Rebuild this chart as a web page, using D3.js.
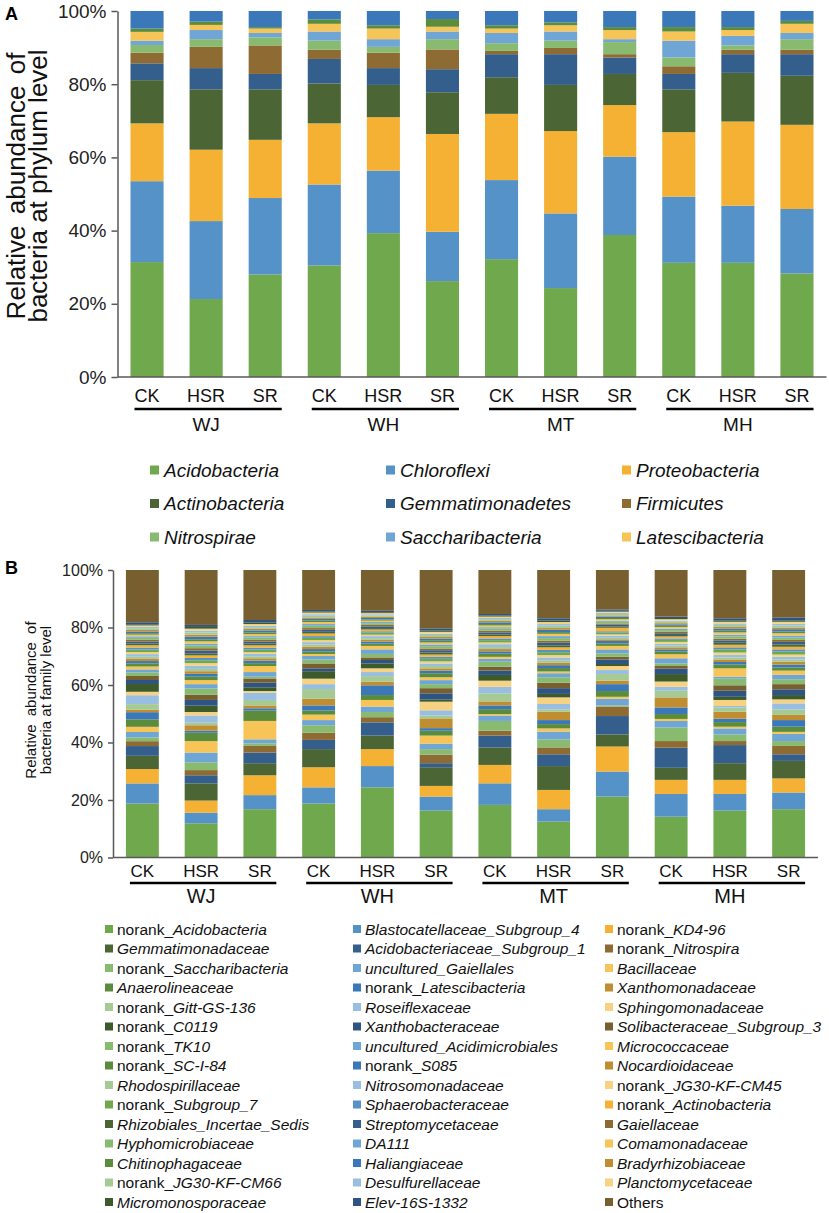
<!DOCTYPE html>
<html>
<head>
<meta charset="utf-8">
<script src="https://cdn.jsdelivr.net/npm/d3@7"></script>
<style>
  body { margin: 0; background: #fff; }
  svg { font-family: "Liberation Sans", Arial, sans-serif; }
</style>
</head>
<body>
<div id="chart"></div>
<script>
// sites and treatments on the x axis
const sites = ["WJ", "WH", "MT", "MH"];
const treatments = ["CK", "HSR", "SR"];
const samples = sites.flatMap(s => treatments.map(t => s + "_" + t));

// panel A: phylum level (last two series are not in the legend)
const phyla = ["Acidobacteria", "Chloroflexi", "Proteobacteria", "Actinobacteria",
  "Gemmatimonadetes", "Firmicutes", "Nitrospirae", "Saccharibacteria", "Latescibacteria",
  "minor phyla", "others"];

const phylumWJ_CK  = [31.4, 22.1, 15.8, 11.8, 4.6, 2.9, 2.1, 1.2, 2.4, 0.9, 4.8];
const phylumWJ_HSR = [21.3, 21.3, 19.5, 16.5, 5.8, 5.8, 2.1, 2.5, 1.4, 0.9, 2.9];
const phylumWJ_SR  = [28.0, 20.9, 15.9, 13.8, 4.2, 7.8, 2.2, 1.2, 1.2, 0.4, 4.4];
const phylumWH_CK  = [30.5, 22.1, 16.7, 10.9, 6.7, 2.5, 2.5, 2.5, 2.1, 1.2, 2.3];
const phylumWH_HSR = [39.3, 17.1, 14.6, 8.8, 4.6, 4.2, 1.6, 2.1, 2.9, 0.9, 3.9];
const phylumWH_SR  = [26.2, 13.5, 26.7, 11.4, 6.3, 5.4, 2.8, 2.1, 1.3, 2.1, 2.2];
const phylumMT_CK  = [32.2, 21.6, 18.1, 10.0, 6.3, 0.9, 2.1, 2.8, 1.2, 0.9, 3.9];
const phylumMT_HSR = [24.3, 20.4, 22.5, 12.6, 8.4, 1.7, 2.0, 2.5, 1.7, 0.8, 3.1];
const phylumMT_SR  = [38.8, 21.4, 14.1, 8.5, 4.5, 0.9, 3.3, 0.8, 2.5, 0.8, 4.4];
const phylumMH_CK  = [31.2, 18.1, 17.6, 11.7, 4.2, 2.1, 2.4, 4.6, 2.5, 1.2, 4.4];
const phylumMH_HSR = [31.2, 15.6, 23.0, 13.3, 5.1, 1.2, 1.2, 2.6, 1.6, 0.8, 4.4];
const phylumMH_SR  = [28.3, 17.6, 23.0, 13.4, 5.9, 1.2, 2.9, 1.7, 2.5, 0.8, 2.7];

// panel B: family level
const families = ["norank_Acidobacteria", "Blastocatellaceae_Subgroup_4", "norank_KD4-96",
  "Gemmatimonadaceae", "Acidobacteriaceae_Subgroup_1", "norank_Nitrospira",
  "norank_Saccharibacteria", "uncultured_Gaiellales", "Bacillaceae",
  "Anaerolineaceae", "norank_Latescibacteria", "Xanthomonadaceae",
  "norank_Gitt-GS-136", "Roseiflexaceae", "Sphingomonadaceae",
  "norank_C0119", "Xanthobacteraceae", "Solibacteraceae_Subgroup_3",
  "norank_TK10", "uncultured_Acidimicrobiales", "Micrococcaceae",
  "norank_SC-I-84", "norank_S085", "Nocardioidaceae",
  "Rhodospirillaceae", "Nitrosomonadaceae", "norank_JG30-KF-CM45",
  "norank_Subgroup_7", "Sphaerobacteraceae", "norank_Actinobacteria",
  "Rhizobiales_Incertae_Sedis", "Streptomycetaceae", "Gaiellaceae",
  "Hyphomicrobiaceae", "DA111", "Comamonadaceae",
  "Chitinophagaceae", "Haliangiaceae", "Bradyrhizobiaceae",
  "norank_JG30-KF-CM66", "Desulfurellaceae", "Planctomycetaceae",
  "Micromonosporaceae", "Elev-16S-1332", "Others"];

const familyWJ_CK = [18.8, 7.0, 5.0, 4.6, 3.4, 1.7, 1.3, 1.9, 1.8, 2.6, 2.5, 0.9, 1.9, 3.1, 1.2,
  2.7, 1.4, 1.4, 1.2, 1.1, 1.0, 1.1, 0.8, 0.9, 0.6, 0.9, 0.7, 0.9, 0.7, 0.8, 0.6, 0.7, 0.6, 0.7,
  0.5, 0.6, 0.5, 0.6, 0.5, 0.6, 0.5, 0.5, 0.4, 0.7, 18.2];
const familyWJ_HSR = [11.9, 3.7, 4.2, 6.0, 2.8, 1.8, 2.7, 3.4, 4.0, 2.9, 0.7, 1.9, 0.9, 2.5, 1.2,
  2.2, 2.0, 1.8, 2.2, 1.5, 1.4, 1.2, 1.0, 0.9, 0.8, 1.1, 0.9, 1.0, 0.8, 0.9, 0.7, 1.0, 0.8, 0.9,
  0.7, 0.8, 0.7, 0.9, 0.7, 0.8, 0.6, 0.7, 0.6, 0.7, 19.1];
const familyWJ_SR = [16.8, 4.9, 6.9, 4.2, 3.7, 2.3, 0.9, 1.4, 6.4, 3.6, 0.8, 1.0, 1.9, 2.5, 0.6,
  1.3, 1.6, 1.5, 0.6, 1.6, 2.1, 1.0, 0.9, 0.8, 0.7, 0.8, 0.6, 0.9, 0.7, 0.8, 0.6, 0.7, 0.6, 0.8,
  0.5, 0.7, 0.6, 0.7, 0.5, 0.6, 0.5, 0.6, 0.5, 0.9, 17.4];
const familyWH_CK = [18.8, 5.6, 7.0, 6.3, 3.2, 2.5, 2.6, 1.8, 1.9, 1.4, 1.8, 2.3, 3.4, 1.7, 1.9,
  2.6, 1.0, 1.7, 1.4, 1.2, 0.7, 0.9, 0.8, 0.9, 0.7, 0.8, 0.7, 0.8, 0.6, 0.9, 0.6, 0.7, 0.6, 0.8,
  0.6, 0.7, 0.5, 0.6, 0.5, 0.6, 0.5, 0.6, 0.4, 0.5, 13.9];
const familyWH_HSR = [24.4, 7.4, 5.9, 4.7, 4.6, 1.8, 1.8, 1.9, 2.3, 1.7, 3.4, 1.3, 1.9, 1.4, 1.3,
  1.7, 1.2, 0.9, 1.2, 1.6, 1.2, 0.8, 0.7, 0.6, 0.6, 0.7, 0.5, 0.7, 0.5, 0.6, 0.5, 0.6, 0.5, 0.6,
  0.4, 0.5, 0.4, 0.5, 0.4, 0.5, 0.4, 0.4, 0.3, 0.5, 14.2];
const familyWH_SR = [16.3, 4.9, 3.7, 6.5, 1.4, 3.0, 1.9, 1.9, 2.8, 1.7, 0.9, 3.4, 1.0, 1.8, 3.0,
  0.8, 2.1, 1.8, 1.4, 1.4, 1.0, 1.4, 0.9, 0.8, 0.8, 0.9, 0.7, 0.9, 0.7, 0.8, 0.7, 0.8, 0.6, 0.8,
  0.6, 0.7, 0.6, 0.7, 0.6, 0.7, 0.5, 0.6, 0.5, 0.7, 20.3];
const familyMT_CK = [18.3, 7.5, 6.4, 6.1, 4.1, 1.7, 3.4, 1.9, 0.5, 1.7, 1.3, 1.4, 2.8, 2.3, 2.1,
  2.0, 1.5, 1.4, 1.7, 1.0, 0.7, 1.1, 0.8, 0.8, 0.7, 1.0, 0.6, 0.8, 0.6, 0.8, 0.6, 0.7, 0.6, 0.7,
  0.5, 0.6, 0.5, 0.6, 0.5, 0.6, 0.4, 0.5, 0.4, 0.5, 15.3];
const familyMT_HSR = [12.5, 4.3, 6.7, 8.3, 4.1, 2.4, 2.8, 2.7, 1.1, 1.5, 1.4, 2.9, 0.8, 1.9, 2.3,
  1.2, 2.0, 1.9, 1.9, 1.4, 0.6, 1.2, 1.0, 0.9, 0.8, 1.0, 0.8, 1.0, 0.8, 0.9, 0.7, 0.9, 0.7, 0.9,
  0.7, 0.8, 0.6, 0.8, 0.6, 0.8, 0.6, 0.7, 0.5, 0.8, 16.8];
const familyMT_SR = [21.2, 8.7, 8.7, 4.2, 6.4, 3.3, 0.4, 2.3, 0.7, 2.0, 2.4, 1.2, 2.3, 1.4, 1.4,
  0.7, 1.6, 0.9, 1.2, 1.4, 1.2, 0.8, 0.9, 0.6, 0.5, 0.7, 0.5, 0.6, 0.5, 1.2, 0.5, 0.6, 0.4, 0.6,
  0.4, 0.5, 0.4, 0.5, 0.4, 0.5, 0.4, 0.4, 0.3, 0.5, 13.7];
const familyMH_CK = [14.2, 7.9, 4.9, 4.2, 7.0, 2.3, 4.7, 2.3, 0.7, 1.7, 2.3, 3.5, 2.3, 1.4, 1.8,
  2.6, 1.9, 0.9, 0.9, 1.8, 1.4, 1.0, 0.7, 0.7, 0.6, 0.7, 0.6, 0.7, 0.5, 0.7, 0.5, 0.6, 0.5, 0.6,
  0.5, 0.6, 0.4, 0.5, 0.4, 0.5, 0.4, 0.5, 0.4, 0.5, 16.2];
const familyMH_HSR = [16.3, 5.8, 4.9, 5.8, 6.3, 1.4, 2.3, 2.1, 0.6, 1.6, 1.2, 2.4, 1.5, 0.5, 2.1,
  1.1, 2.1, 1.9, 2.3, 0.7, 2.9, 1.3, 0.9, 0.9, 0.7, 0.9, 0.8, 1.1, 0.7, 0.9, 0.7, 0.8, 0.6, 0.8,
  0.6, 0.8, 0.6, 0.7, 0.6, 0.7, 0.5, 0.6, 0.5, 0.7, 16.8];
const familyMH_SR = [16.8, 5.8, 4.9, 6.1, 2.3, 2.9, 1.7, 2.5, 0.7, 1.8, 2.3, 1.8, 1.9, 2.1, 1.4,
  1.5, 2.0, 1.8, 1.7, 1.6, 1.4, 1.1, 1.0, 1.0, 0.8, 0.9, 0.8, 1.0, 0.8, 0.9, 0.8, 0.9, 0.7, 0.8,
  0.7, 0.8, 0.6, 0.8, 0.6, 0.7, 0.6, 0.7, 0.5, 1.0, 16.5];

const phylumValues = [phylumWJ_CK, phylumWJ_HSR, phylumWJ_SR, phylumWH_CK, phylumWH_HSR, phylumWH_SR,
  phylumMT_CK, phylumMT_HSR, phylumMT_SR, phylumMH_CK, phylumMH_HSR, phylumMH_SR];
const familyValues = [familyWJ_CK, familyWJ_HSR, familyWJ_SR, familyWH_CK, familyWH_HSR, familyWH_SR,
  familyMT_CK, familyMT_HSR, familyMT_SR, familyMH_CK, familyMH_HSR, familyMH_SR];

// colours: three hues, several shades each
const shades = {
  green:  { base: "#70a84e", dark: "#4b6634", light: "#88bb70", mid: "#5b8c3b", pale: "#a5ca93", deep: "#3d5a2b" },
  blue:   { base: "#5592c8", dark: "#345f8c", light: "#70a6d6", mid: "#3b78b9", pale: "#98bee2", deep: "#2d5482" },
  orange: { base: "#f4b133", dark: "#8e6b32", light: "#f6c457", mid: "#c18d31", pale: "#f7d283", deep: "#785f30" }
};
const hueOrder = ["green", "blue", "orange"];
const rowShades = ["base", "dark", "light", "mid", "pale", "deep", "light", "mid", "pale",
  "base", "dark", "light", "mid", "pale", "deep"];

const phylumColors = phyla.map((d, i) => {
  const row = Math.floor(i / 3);
  return shades[hueOrder[i % 3]][["base", "dark", "light", "mid"][row]];
});
const familyColors = families.map((d, i) => shades[hueOrder[i % 3]][rowShades[Math.floor(i / 3)]]);

const width = 829, height = 1213;
const svg = d3.select("#chart").append("svg")
  .attr("width", width)
  .attr("height", height);

function drawPanel(o) {
  const g = svg.append("g");

  const x = d3.scaleBand()
    .domain(samples)
    .range(o.xRange)
    .paddingInner(0.44)
    .paddingOuter(0.22);

  const y = d3.scaleLinear()
    .domain([0, 1])
    .range(o.yRange);

  // build the table d3.stack wants
  const table = samples.map((s, i) => {
    const row = { sample: s };
    o.keys.forEach((k, j) => { row[k] = o.values[i][j]; });
    return row;
  });

  const layers = d3.stack()
    .keys(o.keys)
    .offset(d3.stackOffsetExpand)(table);

  g.selectAll("g.layer")
    .data(layers)
    .join("g")
    .attr("class", "layer")
    .attr("fill", (d, i) => o.colors[i])
    .selectAll("rect")
    .data(d => d)
    .join("rect")
    .attr("x", d => x(d.data.sample))
    .attr("width", x.bandwidth())
    .attr("y", d => y(d[1]))
    .attr("height", d => y(d[0]) - y(d[1]));

  // y axis
  const yAxis = d3.axisLeft(y)
    .tickValues([0, 0.2, 0.4, 0.6, 0.8, 1])
    .tickFormat(d3.format(".0%"))
    .tickSize(o.tickSize)
    .tickSizeOuter(0)
    .tickPadding(o.tickPad);

  const ya = g.append("g")
    .attr("transform", `translate(${o.xRange[0]},0)`)
    .call(yAxis);
  ya.select(".domain").attr("stroke", "#595959").attr("stroke-width", 1.5);
  ya.selectAll(".tick line").attr("stroke", "#595959").attr("stroke-width", 1.5);
  ya.selectAll(".tick text")
    .attr("fill", "#222")
    .style("font-size", o.tickFont + "px")
    .style("font-family", "'Liberation Sans', Arial, sans-serif");

  // base line
  g.append("line")
    .attr("x1", o.xRange[0]).attr("x2", o.xRange[1])
    .attr("y1", y(0)).attr("y2", y(0))
    .attr("stroke", "#595959").attr("stroke-width", 1.5);

  // treatment labels
  g.selectAll("text.treat")
    .data(samples)
    .join("text")
    .attr("class", "treat")
    .attr("x", d => x(d) + x.bandwidth() / 2)
    .attr("y", o.treatY)
    .attr("text-anchor", "middle")
    .style("font-size", o.treatFont + "px")
    .attr("fill", "#111")
    .text(d => d.split("_")[1]);

  // site underline and label
  sites.forEach(s => {
    const first = x(s + "_CK"), last = x(s + "_SR") + x.bandwidth();
    g.append("line")
      .attr("x1", first + 4).attr("x2", last)
      .attr("y1", o.lineY).attr("y2", o.lineY)
      .attr("stroke", "#000").attr("stroke-width", 2.5);
    g.append("text")
      .attr("x", x(s + "_HSR") + x.bandwidth() / 2)
      .attr("y", o.siteY)
      .attr("text-anchor", "middle")
      .style("font-size", o.siteFont + "px")
      .attr("fill", "#111")
      .text(s);
  });

  // y title
  const cy = o.titleCenter;
  o.title.forEach((line, i) => {
    g.append("text")
      .attr("transform", `translate(${o.titleX[i]},${cy}) rotate(-90)`)
      .attr("text-anchor", "middle")
      .style("font-size", o.titleFont + "px")
      .style("word-spacing", (i === 0 ? o.titleWordSpacing : 0) + "px")
      .attr("fill", "#111")
      .text(line);
  });

  // panel letter
  g.append("text")
    .attr("x", 5).attr("y", o.letterY)
    .style("font-size", "18px")
    .style("font-weight", "bold")
    .text(o.letter);
}

drawPanel({
  keys: phyla, values: phylumValues, colors: phylumColors,
  xRange: [117.5, 826.5], yRange: [377, 11],
  tickSize: 6, tickPad: 5, tickFont: 19,
  treatY: 402, treatFont: 18, lineY: 409, siteY: 431, siteFont: 19,
  title: ["Relative abundance of", "bacteria at phylum level"],
  titleX: [25, 47], titleCenter: 186, titleFont: 26, titleWordSpacing: 4,
  letter: "A", letterY: 20
});

drawPanel({
  keys: families, values: familyValues, colors: familyColors,
  xRange: [113, 818], yRange: [857.5, 570],
  tickSize: 5, tickPad: 5, tickFont: 16,
  treatY: 877, treatFont: 17, lineY: 883, siteY: 903, siteFont: 20,
  title: ["Relative abundance of", "bacteria at family level"],
  titleX: [36, 51], titleCenter: 700, titleFont: 15, titleWordSpacing: 4,
  letter: "B", letterY: 574
});

// legend A (three columns, row-major)
const legA = svg.append("g");
const legAItems = phyla.slice(0, 9);
legA.selectAll("g")
  .data(legAItems)
  .join("g")
  .attr("transform", (d, i) => `translate(${150 + (i % 3) * 236},${470 + Math.floor(i / 3) * 33.5})`)
  .each(function (d, i) {
    const item = d3.select(this);
    item.append("rect")
      .attr("x", 0).attr("y", -4.5).attr("width", 9).attr("height", 9)
      .attr("fill", phylumColors[i]);
    item.append("text")
      .attr("x", 14).attr("y", 6.5)
      .style("font-size", "19px")
      .style("font-style", "italic")
      .attr("fill", "#111")
      .text(d);
  });

// legend B (three columns, row-major)
const legB = svg.append("g");
const colX = [105, 353, 605];
legB.selectAll("g")
  .data(families)
  .join("g")
  .attr("transform", (d, i) => `translate(${colX[i % 3]},${929 + Math.floor(i / 3) * 19.5})`)
  .each(function (d, i) {
    const item = d3.select(this);
    item.append("rect")
      .attr("x", 0).attr("y", -4).attr("width", 8).attr("height", 8)
      .attr("fill", familyColors[i]);
    const t = item.append("text")
      .attr("x", 12).attr("y", 5.5)
      .style("font-size", "15.5px")
      .attr("fill", "#111");
    if (d.startsWith("norank_")) {
      t.append("tspan").text("norank_");
      t.append("tspan").style("font-style", "italic").text(d.slice(7));
    } else if (d === "Others") {
      t.text(d);
    } else {
      t.style("font-style", "italic").text(d);
    }
  });
</script>
</body>
</html>
